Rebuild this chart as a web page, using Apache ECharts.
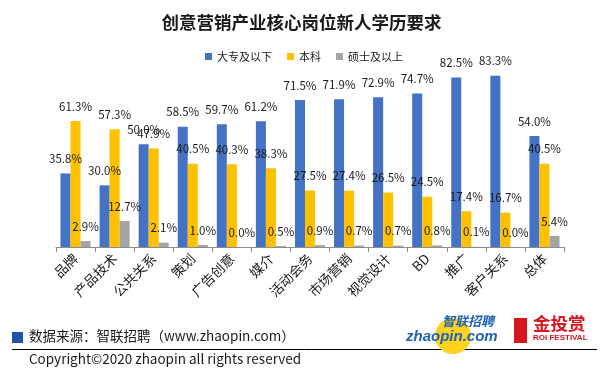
<!DOCTYPE html>
<html><head><meta charset="utf-8">
<script src="https://cdn.jsdelivr.net/npm/echarts@6/dist/echarts.min.js"></script>
<style>html,body{margin:0;padding:0;background:#fff}#c{width:603px;height:374px}</style>
</head><body><div id="c"></div>
<script>
var categories = ['品牌','产品技术','公共关系','策划','广告创意','媒介','活动会务','市场营销','视觉设计','BD','推广','客户关系','总体'];
var seriesNames = ['大专及以下','本科','硕士及以上'];
var juniorCollege = [35.8,30.0,50.0,58.5,59.7,61.2,71.5,71.9,72.9,74.7,82.5,83.3,54.0];
var bachelor = [61.3,57.3,47.9,40.5,40.3,38.3,27.5,27.4,26.5,24.5,17.4,16.7,40.5];
var master = [2.9,12.7,2.1,1.0,0.0,0.5,0.9,0.7,0.7,0.8,0.1,0.0,5.4];
var colors = ['#4472C4','#FFC000','#A5A5A5'];
var FONT = '"Noto Sans CJK SC","Microsoft YaHei",sans-serif';

var chart = echarts.init(document.getElementById('c'), null, {renderer:'canvas'});
function mk(name, data, color){
  return {
    name:name, type:'bar', data:data, barGap:'0%', barCategoryGap:'23%',
    itemStyle:{color:color},
    label:{show:true, position:'top', distance:9, color:'#1a1a1a', fontSize:11.5, fontFamily:FONT,
      formatter:function(p){return p.value.toFixed(1)+'%';}}
  };
}
chart.setOption({
  backgroundColor:'#fff',
  animation:false,
  title:{text:'创意营销产业核心岗位新人学历要求', left:'center', top:9,
    textStyle:{fontSize:17.5, fontWeight:'bold', color:'#1a1a1a', fontFamily:FONT}},
  legend:{data:seriesNames, left:200, top:46, itemWidth:7, itemHeight:7, itemGap:15,
    icon:'rect', textStyle:{fontSize:11, color:'#1a1a1a', fontFamily:FONT}},
  grid:{left:56, right:39, top:41.5, bottom:127, containLabel:false},
  xAxis:{type:'category', data:categories,
    axisLine:{lineStyle:{color:'#8c8c8c'}},
    axisTick:{show:true, length:5, lineStyle:{color:'#8c8c8c'}},
    axisLabel:{rotate:45, fontSize:13.5, color:'#1a1a1a', fontFamily:FONT, margin:9, interval:0}},
  yAxis:{type:'value', min:0, max:100, show:false, splitLine:{show:false}},
  series:[mk(seriesNames[0],juniorCollege,colors[0]), mk(seriesNames[1],bachelor,colors[1]), mk(seriesNames[2],master,colors[2])],
  graphic:[
    {type:'rect', shape:{x:12,y:332,width:11,height:11}, style:{fill:'#1F55A6'}},
    {type:'text', left:29, top:329, style:{text:'数据来源：智联招聘（www.zhaopin.com）', fontSize:13.5, fill:'#1a1a1a', fontFamily:FONT}},
    {type:'line', shape:{x1:12,y1:349.5,x2:597,y2:349.5}, style:{stroke:'#000', lineWidth:1}},
    {type:'text', left:29, top:352, style:{text:'Copyright©2020 zhaopin all rights reserved', fontSize:13.5, fill:'#1a1a1a', fontFamily:FONT}},
    {type:'circle', shape:{cx:453, cy:336, r:18}, style:{fill:'#FFD21F'}},
    {type:'text', left:442, top:315, style:{text:'智联招聘', fontSize:13, fontWeight:'bold', fontStyle:'italic', fill:'#1F62B8', fontFamily:FONT}},
    {type:'text', left:406, top:329, style:{text:'zhaopin.com', fontSize:15, fontWeight:'bold', fontStyle:'italic', fill:'#1F62B8', fontFamily:'"Liberation Sans",sans-serif'}},
    {type:'rect', shape:{x:514,y:318,width:13,height:25}, style:{fill:'#D9141E'}},
    {type:'text', left:533, top:315, style:{text:'金投赏', fontSize:17.5, fontWeight:'bold', fill:'#D9141E', fontFamily:FONT}},
    {type:'text', left:533, top:334, style:{text:'ROI FESTIVAL', fontSize:8, fontWeight:'bold', fill:'#D9141E', fontFamily:'"Liberation Sans",sans-serif'}}
  ]
});
</script></body></html>
